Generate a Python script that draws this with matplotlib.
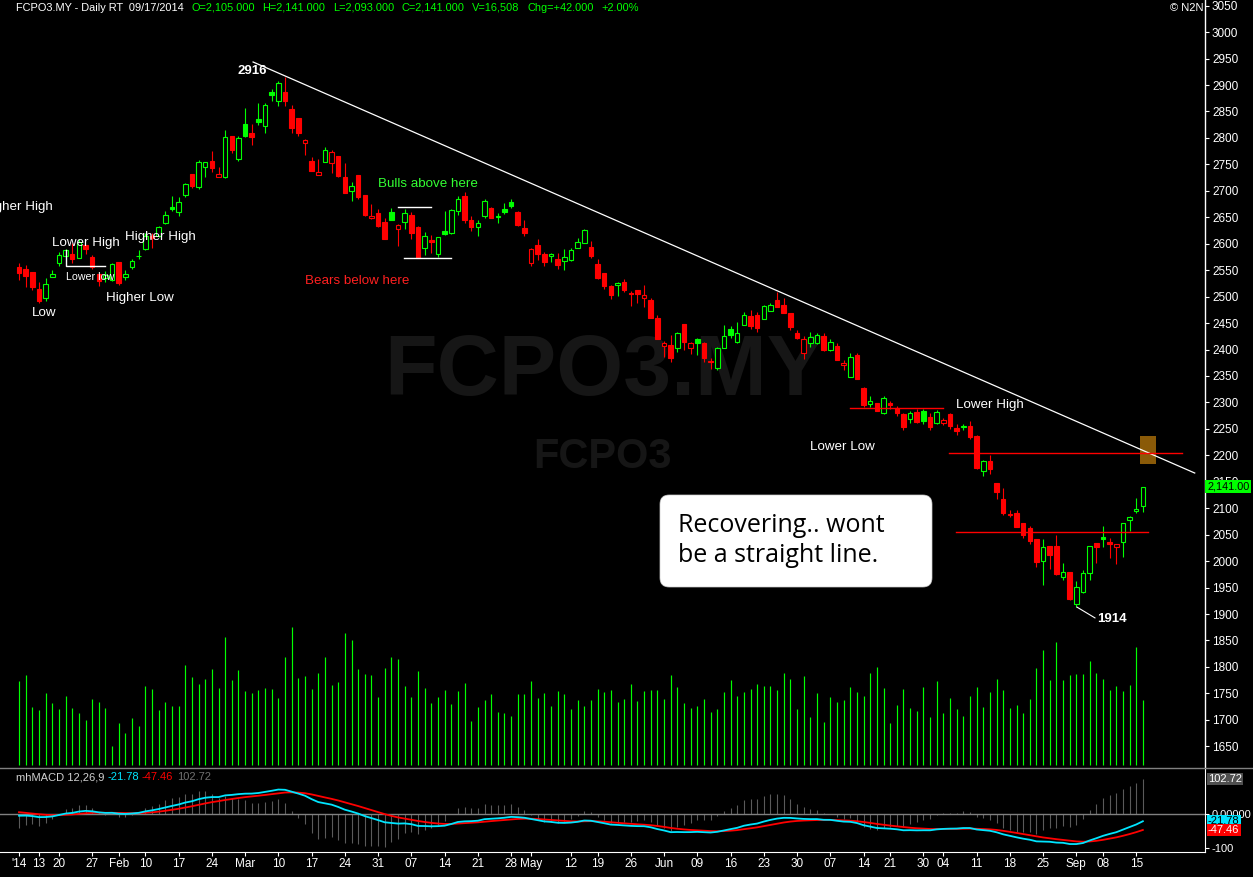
import matplotlib
matplotlib.use('Agg')
import matplotlib.pyplot as plt
import matplotlib.font_manager as fm
import matplotlib.transforms as mtransforms
from matplotlib.patches import FancyBboxPatch, Rectangle
from matplotlib.lines import Line2D
import numpy as np

# ---------------- data ----------------
prev_close_before = 2562
opens = [2556, 2552, 2546, 2514, 2497, 2537, 2563, 2577, 2580, 2573,
         2598, 2575, 2543, 2535, 2531, 2565, 2537, 2556, 2576, 2590,
         2615, 2614, 2639, 2669, 2660, 2692, 2732, 2708, 2745, 2756,
         2726, 2727, 2804, 2761, 2827, 2809, 2836, 2823, 2886, 2870,
         2886, 2855, 2838, 2790, 2756, 2730, 2755, 2753, 2766, 2726,
         2699, 2730, 2692, 2648, 2658, 2641, 2660, 2628, 2641, 2654,
         2631, 2592, 2607, 2581, 2624, 2620, 2662, 2690, 2645, 2631,
         2652, 2667, 2650, 2666, 2679, 2660, 2630, 2564, 2598, 2580,
         2577, 2572, 2567, 2569, 2591, 2601, 2594, 2561, 2545, 2520,
         2522, 2527, 2507, 2512, 2497, 2494, 2460, 2407, 2408, 2402,
         2448, 2403, 2419, 2412, 2378, 2365, 2403, 2439, 2414, 2447,
         2464, 2465, 2458, 2473, 2494, 2484, 2469, 2431, 2393, 2412,
         2412, 2425, 2400, 2406, 2370, 2348, 2389, 2327, 2297, 2299,
         2280, 2298, 2289, 2278, 2269, 2282, 2283, 2273, 2262, 2262,
         2278, 2252, 2254, 2256, 2237, 2171, 2189, 2148, 2118, 2089,
         2090, 2072, 2062, 2041, 2001, 2028, 2028, 1970, 1980, 1919,
         1942, 1977, 2034, 2045, 2037, 2027, 2036, 2078, 2095, 2105]
highs = [2563, 2560, 2546, 2527, 2535, 2550, 2584, 2590, 2601, 2608,
         2598, 2578, 2543, 2548, 2564, 2565, 2550, 2572, 2588, 2620,
         2620, 2634, 2662, 2690, 2688, 2715, 2732, 2758, 2755, 2775,
         2745, 2815, 2804, 2804, 2857, 2826, 2866, 2866, 2892, 2908,
         2916, 2862, 2838, 2797, 2763, 2760, 2782, 2777, 2766, 2752,
         2717, 2730, 2692, 2675, 2665, 2648, 2668, 2637, 2665, 2660,
         2633, 2622, 2616, 2612, 2662, 2665, 2690, 2698, 2652, 2644,
         2685, 2670, 2658, 2677, 2684, 2662, 2644, 2592, 2608, 2584,
         2582, 2582, 2590, 2592, 2610, 2628, 2605, 2572, 2545, 2522,
         2527, 2533, 2510, 2512, 2522, 2497, 2466, 2417, 2428, 2434,
         2448, 2415, 2422, 2415, 2383, 2404, 2447, 2444, 2452, 2471,
         2475, 2471, 2485, 2488, 2509, 2497, 2469, 2437, 2425, 2433,
         2431, 2431, 2420, 2412, 2380, 2393, 2393, 2330, 2312, 2299,
         2312, 2302, 2293, 2280, 2284, 2288, 2288, 2280, 2286, 2270,
         2280, 2260, 2260, 2265, 2238, 2192, 2200, 2148, 2139, 2096,
         2096, 2072, 2066, 2041, 2041, 2028, 2049, 1997, 1980, 1962,
         1984, 2029, 2034, 2066, 2043, 2032, 2072, 2086, 2120, 2141]
lows = [2531, 2518, 2512, 2488, 2492, 2537, 2557, 2577, 2563, 2573,
        2581, 2552, 2520, 2527, 2530, 2522, 2531, 2552, 2572, 2588,
        2592, 2612, 2637, 2661, 2653, 2688, 2705, 2704, 2727, 2736,
        2726, 2724, 2772, 2756, 2802, 2787, 2825, 2810, 2870, 2860,
        2860, 2810, 2803, 2768, 2738, 2730, 2755, 2734, 2726, 2696,
        2681, 2685, 2652, 2647, 2632, 2609, 2645, 2596, 2628, 2609,
        2573, 2578, 2583, 2575, 2616, 2618, 2654, 2640, 2624, 2614,
        2648, 2648, 2640, 2657, 2668, 2634, 2615, 2558, 2570, 2558,
        2565, 2552, 2550, 2567, 2591, 2601, 2573, 2533, 2514, 2495,
        2501, 2508, 2482, 2488, 2480, 2460, 2420, 2386, 2376, 2396,
        2400, 2392, 2390, 2376, 2364, 2362, 2403, 2422, 2412, 2446,
        2439, 2433, 2457, 2473, 2481, 2469, 2437, 2420, 2382, 2404,
        2411, 2398, 2398, 2380, 2362, 2348, 2344, 2291, 2291, 2284,
        2278, 2288, 2274, 2248, 2262, 2261, 2260, 2248, 2260, 2257,
        2250, 2239, 2248, 2231, 2175, 2161, 2164, 2117, 2087, 2084,
        2065, 2044, 2032, 1989, 1955, 1985, 1974, 1964, 1927, 1914,
        1940, 1965, 1997, 2027, 2006, 1995, 2008, 2056, 2090, 2093]
closes = [2545, 2539, 2518, 2492, 2524, 2543, 2578, 2588, 2571, 2603,
          2590, 2556, 2530, 2540, 2561, 2526, 2543, 2567, 2577, 2614,
          2610, 2631, 2654, 2666, 2679, 2713, 2710, 2754, 2755, 2743,
          2732, 2801, 2778, 2800, 2804, 2802, 2830, 2862, 2882, 2904,
          2870, 2819, 2810, 2796, 2738, 2736, 2777, 2773, 2728, 2696,
          2710, 2688, 2654, 2653, 2634, 2609, 2645, 2636, 2658, 2620,
          2573, 2614, 2603, 2612, 2618, 2663, 2685, 2645, 2632, 2640,
          2681, 2648, 2652, 2659, 2672, 2635, 2620, 2590, 2580, 2565,
          2580, 2560, 2575, 2588, 2603, 2626, 2577, 2535, 2520, 2503,
          2525, 2512, 2505, 2504, 2503, 2460, 2420, 2413, 2384, 2432,
          2414, 2412, 2413, 2384, 2376, 2403, 2426, 2428, 2431, 2465,
          2445, 2441, 2482, 2484, 2481, 2469, 2443, 2422, 2420, 2424,
          2428, 2399, 2415, 2380, 2374, 2386, 2344, 2295, 2303, 2284,
          2308, 2296, 2280, 2254, 2280, 2263, 2265, 2254, 2282, 2267,
          2256, 2246, 2256, 2235, 2176, 2189, 2174, 2131, 2091, 2087,
          2065, 2049, 2038, 1998, 2027, 2012, 1976, 1980, 1929, 1951,
          1977, 2029, 2027, 2041, 2033, 2032, 2072, 2084, 2099, 2141]
volumes = [21300, 22900, 14700, 14000, 18300, 15800, 14200, 17500, 14500, 13200,
           11400, 16800, 16000, 14500, 4800, 10700, 8100, 11900, 9900, 20100,
           19300, 14000, 16000, 15000, 15000, 25400, 22400, 20600, 21900, 24400,
           19600, 32500, 21600, 24100, 18800, 18300, 19100, 19600, 19300, 17000,
           27400, 35100, 22100, 22600, 19300, 23400, 27400, 20300, 21100, 33500,
           31800, 24400, 23100, 22900, 17300, 24600, 27400, 26900, 20100, 17300,
           23900, 19600, 15800, 17300, 19100, 15500, 18800, 20800, 11200, 14700,
           16500, 18000, 13500, 13200, 12500, 18000, 18000, 21300, 17000, 18300,
           15000, 18800, 18000, 14200, 16500, 15000, 16500, 19300, 18500, 19100,
           16000, 16800, 20600, 16300, 18800, 19100, 19100, 16800, 22900, 19800,
           15800, 14500, 15000, 16800, 13500, 14200, 18500, 21600, 17500, 18500,
           19300, 20600, 20100, 20100, 19100, 23400, 21900, 14200, 22600, 12200,
           18300, 10900, 17300, 16000, 16500, 19800, 18500, 17500, 23400, 24900,
           19600, 10700, 15200, 19300, 14500, 13700, 19800, 12200, 21300, 13200,
           17000, 14200, 12500, 17500, 19800, 14700, 18500, 21900, 19100, 14500,
           15200, 13200, 16800, 24600, 29200, 21600, 31300, 21600, 22900, 23100,
           23100, 26400, 23400, 21900, 19100, 20100, 18800, 20300, 30000, 16508]

tick_pos = [0, 3, 6, 11, 15, 19, 24, 29, 34, 39, 44, 49, 54, 59, 64, 69, 74, 77,
            83, 87, 92, 97, 102, 107, 112, 117, 122, 127, 131, 136, 139, 144,
            149, 154, 159, 163, 168]
tick_labels = ["'14", "13", "20", "27", "Feb", "10", "17", "24", "Mar", "10", "17",
               "24", "31", "07", "14", "21", "28", "May", "12", "19", "26", "Jun",
               "09", "16", "23", "30", "07", "14", "21", "30", "04", "11", "18",
               "25", "Sep", "08", "15"]
price_ticks = list(range(1650, 3051, 50))

# MACD read-outs as printed on the chart
macd_label, signal_label, hist_label = "-21.78", "-47.46", "102.72"

# annotation geometry (index, price)
trend_start = (35.2, 2943.5)
trend_end = (176.8, 2166.5)
red_levels = [(125.0, 138.9, 2288.8), (139.8, 174.9, 2203.8), (140.9, 169.8, 2054.4)]
white_levels = [(57.0, 62.0, 2669.4), (57.9, 65.0, 2573.0)]
zone_box = (168.6, 2183.6, 2.4, 52.9)

header_white = "FCPO3.MY - Daily RT  09/17/2014"
header_green = [("O=2,105.000", 192), ("H=2,141.000", 262), ("L=2,093.000", 333),
                ("C=2,141.000", 402), ("V=16,508", 472), ("Chg=+42.000", 528),
                ("+2.00%", 601)]

# ---------------- setup ----------------
W, H, DPI = 1253, 877, 100
names = {f.name for f in fm.fontManager.ttflist}
NARROW = 'Liberation Sans Narrow' if 'Liberation Sans Narrow' in names else 'Liberation Sans'
plt.rcParams['font.family'] = [NARROW, 'DejaVu Sans']

GREEN = '#00ff00'
RED = '#ff0000'
CYAN = '#00e5ff'

fig = plt.figure(figsize=(W / DPI, H / DPI), dpi=DPI, facecolor='black')
T = mtransforms.Affine2D().scale(1 / DPI, -1 / DPI).translate(0, H / DPI) + fig.dpi_scale_trans

def ptext(x, y, s, **kw):
    kw.setdefault('va', 'center')
    return fig.text(x, y, s, transform=T, **kw)

AX_R = 1205
x_px0, x_step = 19.0, 6.65
xlim = (-x_px0 / x_step, (AX_R - x_px0) / x_step)

rect_price = [0, 1 - 768 / H, AX_R / W, 768 / H]
rect_macd = [0, 1 - 852 / H, AX_R / W, 84 / H]

n = len(closes)
idx = np.arange(n)
o = np.array(opens, float); h = np.array(highs, float)
l = np.array(lows, float); c = np.array(closes, float)
v = np.array(volumes, float)
prev = np.r_[prev_close_before, c[:-1]]
col = np.where(c >= prev, GREEN, RED)
filled = c < o

# volume overlay axes
ax_vol = fig.add_axes(rect_price)
ax_vol.set_facecolor('black')
ax_vol.set_xlim(*xlim)
vpp = 254.0
ax_vol.set_ylim(-3 * vpp, -3 * vpp + 768 * vpp)
ax_vol.vlines(idx, 0, v, colors=GREEN, lw=0.85)
ax_vol.axis('off')

# price axes
ax = fig.add_axes(rect_price)
ax.set_facecolor('none')
ax.set_xlim(*xlim)
ppx = 0.529
ax.set_ylim(2200 - (768 - 455.3) / ppx, 2200 + 455.3 / ppx)

# watermark
ax.text(0.5017, 1 - 395 / 768, "FCPO3.MY", transform=ax.transAxes, color='#161616',
        fontsize=62, fontweight='bold', ha='center', va='baseline', zorder=0)
ax.text(0.4996, 1 - 468 / 768, "FCPO3", transform=ax.transAxes, color='#161616',
        fontsize=30, fontweight='bold', ha='center', va='baseline', zorder=0)

# zone box
ax.add_patch(Rectangle(zone_box[:2], zone_box[2], zone_box[3], facecolor='#8a5a08',
                       edgecolor='none', zorder=1))

# candles
ax.vlines(idx, l, h, colors=col, lw=0.8, zorder=3)
body_lo = np.minimum(o, c)
body_h = np.maximum(np.abs(c - o), 1.2)
faces = np.where(filled, col, 'black')
ax.bar(idx, body_h, bottom=body_lo, width=0.68, color=faces, edgecolor=col,
       linewidth=0.8, zorder=4)

# lines
ax.plot([trend_start[0], trend_end[0]], [trend_start[1], trend_end[1]], color='white',
        lw=0.9, zorder=5)
for x0, x1, y in red_levels:
    ax.plot([x0, x1], [y, y], color=RED, lw=1.0, zorder=5)
for x0, x1, y in white_levels:
    ax.plot([x0, x1], [y, y], color='white', lw=1.0, zorder=5)
ax.plot([7.1, 7.1, 12.9], [2588, 2558, 2558], color='white', lw=1.0, zorder=5)
ax.plot([159.1, 161.8], [1913, 1892.6], color='white', lw=0.8, zorder=5)

# price axis style
for s in ['top', 'left', 'bottom']:
    ax.spines[s].set_visible(False)
ax.spines['right'].set_color('white')
ax.spines['right'].set_linewidth(1.0)
ax.set_xticks([])
ax.yaxis.tick_right()
ax.set_yticks(price_ticks)
ax.set_yticklabels([str(t) for t in price_ticks])
ax.tick_params(axis='y', colors='white', labelsize=8.5, length=3, width=0.8, pad=2)
ax.text(1.0 + 2 / AX_R, c[-1], f"{c[-1]:,.2f}",
        transform=mtransforms.blended_transform_factory(ax.transAxes, ax.transData),
        ha='left', va='center', fontsize=7.8, color='black', clip_on=False, zorder=10,
        bbox=dict(boxstyle='square,pad=0.15', fc=GREEN, ec='none'))

# separator line
fig.add_artist(Line2D([0, 1], [1 - 768 / H, 1 - 768 / H], transform=fig.transFigure,
                      color='#808080', lw=1.0))

# ---------------- MACD ----------------
def ema(x, span, seed):
    a = 2.0 / (span + 1)
    out = np.empty(len(x))
    e = seed
    for i, val in enumerate(x):
        e = e + a * (val - e)
        out[i] = e
    return out

ema12 = ema(c, 12, c[0] - 6)
ema26 = ema(c, 26, c[0])
macd = ema12 - ema26
signal = ema(macd, 9, 8.0)
hist = 4 * (macd - signal)

axm = fig.add_axes(rect_macd)
axm.set_facecolor('black')
axm.set_xlim(*xlim)
mpx = 0.338
axm.set_ylim(-(852 - 814) / mpx, (814 - 768) / mpx)
axm.vlines(idx, 0, hist, colors='#5a5a5a', lw=0.8, zorder=1)
axm.axhline(0, color='#808080', lw=1.0, zorder=2)
axm.plot(idx, signal, color=RED, lw=1.3, zorder=3)
axm.plot(idx, macd, color=CYAN, lw=1.3, zorder=4)
for s in ['top', 'left']:
    axm.spines[s].set_visible(False)
axm.spines['right'].set_color('white')
axm.spines['bottom'].set_color('white')
axm.yaxis.tick_right()
axm.set_yticks([-100, 0])
axm.set_yticklabels(['-100', '0.00000'])
axm.tick_params(axis='y', colors='white', labelsize=8, length=3, width=0.8, pad=2)
axm.set_xticks(tick_pos)
axm.set_xticklabels(tick_labels)
axm.tick_params(axis='x', colors='white', labelsize=8.5, length=3, width=0.8, pad=1.5)
bt = mtransforms.blended_transform_factory(axm.transAxes, axm.transData)
xl = 1.0 + 3 / AX_R
axm.text(xl, hist[-1], hist_label, transform=bt, ha='left', va='center', fontsize=8,
         color='white', clip_on=False, zorder=10,
         bbox=dict(boxstyle='square,pad=0.12', fc='#505050', ec='none'))
axm.text(xl, macd[-1], macd_label, transform=bt, ha='left', va='center', fontsize=8,
         color='black', clip_on=False, zorder=11,
         bbox=dict(boxstyle='square,pad=0.12', fc=CYAN, ec='none'))
axm.text(xl, signal[-1], signal_label, transform=bt, ha='left', va='center', fontsize=8,
         color='white', clip_on=False, zorder=12,
         bbox=dict(boxstyle='square,pad=0.12', fc=RED, ec='none'))

ptext(16, 777, "mhMACD 12,26,9", color='#d0d0d0', fontsize=8)
ptext(108, 777, macd_label, color=CYAN, fontsize=8)
ptext(142, 777, signal_label, color=RED, fontsize=8)
ptext(177, 777, hist_label, color='#707070', fontsize=8)

# ---------------- header & annotations ----------------
ptext(16, 8, header_white, color='white', fontsize=7.9)
for s, x in header_green:
    ptext(x, 8, s, color=GREEN, fontsize=7.9)
ptext(1203, 8, "© N2N", color='white', fontsize=8, ha='right')

ann_white = [("Higher High", 53, 207, 'right'), ("Lower High", 52, 243, 'left'),
             ("Low", 32, 313, 'left'), ("Higher Low", 106, 298, 'left'),
             ("Higher High", 125, 237, 'left'), ("Lower High", 956, 405, 'left'),
             ("Lower Low", 810, 447, 'left')]
for s, x, y, ha in ann_white:
    ptext(x, y, s, color='white', fontsize=9.6, ha=ha)
ptext(66, 277, "Lower low", color='white', fontsize=7.7)
ptext(378, 184, "Bulls above here", color='#33ff33', fontsize=9.6)
ptext(305, 281, "Bears below here", color='#ff2020', fontsize=9.6)
ptext(237, 71, f"{int(h.max())}", color='white', fontsize=9.5, fontweight='bold')
ptext(1097, 619, f"{int(l.min())}", color='white', fontsize=9.5, fontweight='bold')

box = FancyBboxPatch((660, 495), 272, 92, boxstyle='round,pad=0,rounding_size=9',
                     transform=T, facecolor='white', edgecolor='#cccccc', lw=0.5)
fig.add_artist(box)
ptext(678, 525, "Recovering.. wont", color='black', fontsize=18, family=['Open Sans', 'DejaVu Sans'])
ptext(678, 556, "be a straight line.", color='black', fontsize=18, family=['Open Sans', 'DejaVu Sans'])

fig.savefig('out.png', dpi=DPI, facecolor='black')
